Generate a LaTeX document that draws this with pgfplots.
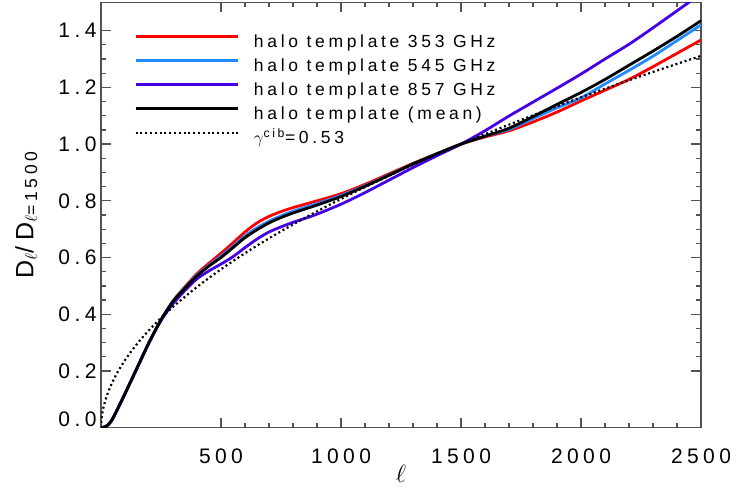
\documentclass[border=0pt]{standalone}
\usepackage{fontspec}
\setmainfont{Liberation Sans}[LetterSpace=21]
\usepackage{pgfplots}
\usepackage{pgfplotstable}
\pgfplotsset{compat=1.18}

\definecolor{c353}{RGB}{255,0,0}
\definecolor{c545}{RGB}{30,140,255}
\definecolor{c857}{RGB}{70,0,230}

\pgfplotstableread{
l y
0 0
20 0.004
40 0.02
60 0.05
80 0.085
100 0.12
150 0.21
200 0.30
250 0.38
300 0.447
350 0.497
400 0.543
450 0.58
500 0.615
550 0.652
600 0.69
650 0.722
700 0.745
750 0.762
800 0.776
850 0.788
900 0.80
1000 0.825
1100 0.858
1200 0.895
1300 0.932
1400 0.966
1500 1.0
1600 1.025
1700 1.047
1800 1.078
1900 1.113
2000 1.152
2100 1.19
2200 1.228
2300 1.273
2400 1.32
2500 1.367
}\tabA

\pgfplotstableread{
l y
0 0
20 0.004
40 0.02
60 0.05
80 0.085
100 0.12
150 0.21
200 0.30
250 0.38
300 0.446
350 0.494
400 0.538
450 0.573
500 0.605
550 0.64
600 0.676
650 0.705
700 0.728
750 0.747
800 0.763
850 0.777
900 0.79
1000 0.819
1100 0.853
1200 0.891
1300 0.93
1400 0.966
1500 1.0
1600 1.028
1700 1.052
1800 1.09
1900 1.128
2000 1.163
2100 1.212
2200 1.26
2300 1.31
2400 1.365
2500 1.42
}\tabB

\pgfplotstableread{
l y
0 0
20 0.004
40 0.02
60 0.05
80 0.085
100 0.12
150 0.21
200 0.30
250 0.378
300 0.437
350 0.484
400 0.525
450 0.553
500 0.577
550 0.603
600 0.635
650 0.665
700 0.69
750 0.708
800 0.724
850 0.738
900 0.753
1000 0.788
1100 0.829
1200 0.873
1300 0.917
1400 0.959
1500 1.0
1600 1.047
1700 1.099
1800 1.148
1900 1.197
2000 1.247
2100 1.30
2200 1.352
2300 1.41
2400 1.47
2500 1.53
}\tabC

\pgfplotstableread{
l y
0 0
20 0.004
40 0.02
60 0.05
80 0.085
100 0.12
150 0.21
200 0.30
250 0.38
300 0.445
350 0.492
400 0.535
450 0.57
500 0.60
550 0.635
600 0.67
650 0.698
700 0.722
750 0.741
800 0.757
850 0.771
900 0.785
1000 0.815
1100 0.851
1200 0.89
1300 0.93
1400 0.966
1500 1.0
1600 1.028
1700 1.056
1800 1.097
1900 1.14
2000 1.182
2100 1.228
2200 1.278
2300 1.328
2400 1.38
2500 1.435
}\tabM

\pgfplotstableread{
l y
0 0
1 0.0207
3 0.0371
6 0.0536
10 0.0703
15 0.0871
20 0.1014
30 0.1258
40 0.1465
50 0.1649
70 0.1971
100 0.2381
130 0.2736
160 0.3054
200 0.3437
250 0.3869
300 0.4261
400 0.4963
500 0.5586
600 0.6153
700 0.6677
800 0.7166
900 0.7628
1000 0.8066
1100 0.8484
1200 0.8885
1300 0.9270
1400 0.9641
1500 1.0
1600 1.0348
1700 1.0686
1800 1.1014
1900 1.1335
2000 1.1647
2100 1.1952
2200 1.2251
2300 1.2543
2400 1.2829
2500 1.3109
}\tabG

\begin{document}
\begin{tikzpicture}
\begin{axis}[
  scale only axis,
  width=600pt, height=425.4pt,
  xmin=0, xmax=2500, ymin=0, ymax=1.5,
  xtick={500,1000,1500,2000,2500},
  ytick={0.2,0.4,0.6,0.8,1.0,1.2,1.4},
  extra y ticks={0},
  extra y tick labels={0.0},
  extra y tick style={yticklabel style={yshift=8pt}},
  xticklabel style={/pgf/number format/1000 sep={}},
  yticklabel style={/pgf/number format/fixed, /pgf/number format/fixed zerofill, /pgf/number format/precision=1},
  minor x tick num=4,
  minor y tick num=3,
  tick align=inside,
  major tick length=10pt,
  minor tick length=5pt,
  axis line style={draw=black!68, line width=1.5pt},
  every tick/.style={draw=black!68, line width=1.3pt},
  /pgf/number format/assume math mode=true,
  tick label style={font=\fontsize{21}{24}\selectfont},
  xticklabel shift=18pt,
  yticklabel shift=1pt,
  xlabel={$\ell$},
  every axis x label/.style={font=\fontsize{25}{28}\selectfont, inner sep=0pt, at={(axis description cs:0.5,-0.087)}, anchor=north},
  ylabel={D\textsubscript{$\ell$}/D\textsubscript{$\ell$=1500}},
  every axis y label/.style={font=\fontsize{25}{28}\selectfont, inner sep=0pt, at={(axis description cs:-0.1433,0.5)}, rotate=90, anchor=north},
  legend cell align=left,
  legend style={draw=none, fill=none, at={(axis description cs:0,1)}, anchor=north west,
    xshift=30pt, yshift=-30.5pt,
    font=\fontsize{17.5}{20}\selectfont,
    row sep=7.5pt, column sep=15pt,
    nodes={inner sep=0pt, text height=12.5pt, text depth=4pt}},
  legend image code/.code={\draw[#1] (0pt,6.5pt) -- (102pt,6.5pt);},
]
\addplot[c353, line width=2.8pt, smooth] table[x=l,y=y] {\tabA};
\addlegendentry{halo template 353 GHz}
\addplot[c545, line width=2.8pt, smooth] table[x=l,y=y] {\tabB};
\addlegendentry{halo template 545 GHz}
\addplot[c857, line width=2.8pt, smooth] table[x=l,y=y] {\tabC};
\addlegendentry{halo template 857 GHz}
\addplot[black, line width=2.8pt, smooth] table[x=l,y=y] {\tabM};
\addlegendentry{halo template (mean)}
\addplot[black, line width=2.2pt, dash pattern=on 2pt off 2.8pt, smooth] table[x=l,y=y] {\tabG};
\addlegendentry{$\gamma$\textsuperscript{cib}=0.53}
\end{axis}
\pgfresetboundingbox
\path[use as bounding box] (-101pt,-72.3pt) rectangle (655pt,427.7pt);
\end{tikzpicture}
\end{document}
